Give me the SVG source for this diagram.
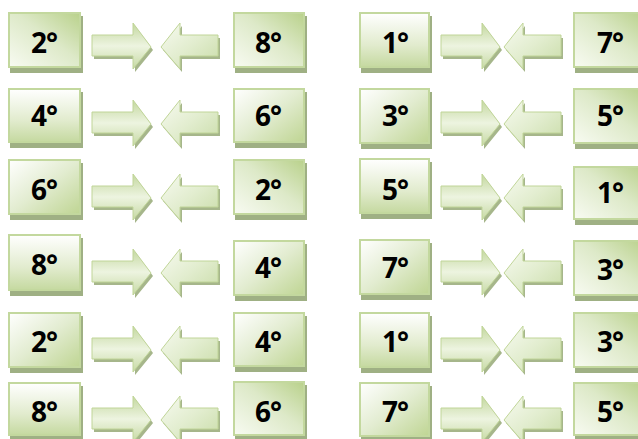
<svg xmlns="http://www.w3.org/2000/svg" width="638" height="439" viewBox="0 0 638 439">
<defs>
<linearGradient id="gA" x1="0" y1="0" x2="1" y2="1">
<stop offset="0" stop-color="#ffffff"/>
<stop offset="0.5" stop-color="#e2ecd0"/>
<stop offset="1" stop-color="#bfd593"/>
</linearGradient>
<linearGradient id="gB" x1="0" y1="1" x2="1" y2="0">
<stop offset="0" stop-color="#f8fbf2"/>
<stop offset="0.55" stop-color="#dde9c8"/>
<stop offset="1" stop-color="#b9d18b"/>
</linearGradient>
<linearGradient id="gC" x1="0" y1="0" x2="0" y2="1">
<stop offset="0" stop-color="#ffffff"/>
<stop offset="0.6" stop-color="#e1ebcd"/>
<stop offset="1" stop-color="#c5d9a0"/>
</linearGradient>
<linearGradient id="aR" x1="0" y1="0" x2="0" y2="1">
<stop offset="0" stop-color="#c3d79e"/>
<stop offset="0.5" stop-color="#edf4e0"/>
<stop offset="1" stop-color="#c6d9a3"/>
</linearGradient>
<linearGradient id="aL" x1="0" y1="0" x2="1" y2="1">
<stop offset="0" stop-color="#f7faf0"/>
<stop offset="0.5" stop-color="#e2edcf"/>
<stop offset="1" stop-color="#c9dca8"/>
</linearGradient>
<path id="ra" d="M0,-12 H41 V-24 L59,0 L41,22 V9 H0 Z"/>
<path id="la" d="M0,0 L19,-24 V-12 H57 V9 H19 V22 Z"/>
</defs>
<style>
.sh{fill:#9fb084}
.bx{stroke:#c3d89e;stroke-width:2}
.t{font-family:"Open Sans","Liberation Sans",sans-serif;font-weight:bold;font-size:28px;letter-spacing:-1px;fill:#000;text-anchor:middle}
.arr{stroke:#c0d598;stroke-width:1}
.ash{fill:#a6b68b}
</style>
<g id="connectors">
<g transform="translate(92,47)"><use href="#ra" class="ash" x="2" y="3"/><use href="#ra" class="arr" fill="url(#aR)"/></g>
<g transform="translate(161,47)"><use href="#la" class="ash" x="2" y="3"/><use href="#la" class="arr" fill="url(#aL)"/></g>
<g transform="translate(441,47)"><use href="#ra" class="ash" x="2" y="3"/><use href="#ra" class="arr" fill="url(#aR)"/></g>
<g transform="translate(504,47)"><use href="#la" class="ash" x="2" y="3"/><use href="#la" class="arr" fill="url(#aL)"/></g>
<g transform="translate(92,124)"><use href="#ra" class="ash" x="2" y="3"/><use href="#ra" class="arr" fill="url(#aR)"/></g>
<g transform="translate(161,124)"><use href="#la" class="ash" x="2" y="3"/><use href="#la" class="arr" fill="url(#aL)"/></g>
<g transform="translate(441,124)"><use href="#ra" class="ash" x="2" y="3"/><use href="#ra" class="arr" fill="url(#aR)"/></g>
<g transform="translate(504,124)"><use href="#la" class="ash" x="2" y="3"/><use href="#la" class="arr" fill="url(#aL)"/></g>
<g transform="translate(92,198)"><use href="#ra" class="ash" x="2" y="3"/><use href="#ra" class="arr" fill="url(#aR)"/></g>
<g transform="translate(161,198)"><use href="#la" class="ash" x="2" y="3"/><use href="#la" class="arr" fill="url(#aL)"/></g>
<g transform="translate(441,198)"><use href="#ra" class="ash" x="2" y="3"/><use href="#ra" class="arr" fill="url(#aR)"/></g>
<g transform="translate(504,198)"><use href="#la" class="ash" x="2" y="3"/><use href="#la" class="arr" fill="url(#aL)"/></g>
<g transform="translate(92,273)"><use href="#ra" class="ash" x="2" y="3"/><use href="#ra" class="arr" fill="url(#aR)"/></g>
<g transform="translate(161,273)"><use href="#la" class="ash" x="2" y="3"/><use href="#la" class="arr" fill="url(#aL)"/></g>
<g transform="translate(441,273)"><use href="#ra" class="ash" x="2" y="3"/><use href="#ra" class="arr" fill="url(#aR)"/></g>
<g transform="translate(504,273)"><use href="#la" class="ash" x="2" y="3"/><use href="#la" class="arr" fill="url(#aL)"/></g>
<g transform="translate(92,350)"><use href="#ra" class="ash" x="2" y="3"/><use href="#ra" class="arr" fill="url(#aR)"/></g>
<g transform="translate(161,350)"><use href="#la" class="ash" x="2" y="3"/><use href="#la" class="arr" fill="url(#aL)"/></g>
<g transform="translate(441,350)"><use href="#ra" class="ash" x="2" y="3"/><use href="#ra" class="arr" fill="url(#aR)"/></g>
<g transform="translate(504,350)"><use href="#la" class="ash" x="2" y="3"/><use href="#la" class="arr" fill="url(#aL)"/></g>
<g transform="translate(92,420)"><use href="#ra" class="ash" x="2" y="3"/><use href="#ra" class="arr" fill="url(#aR)"/></g>
<g transform="translate(161,420)"><use href="#la" class="ash" x="2" y="3"/><use href="#la" class="arr" fill="url(#aL)"/></g>
<g transform="translate(441,420)"><use href="#ra" class="ash" x="2" y="3"/><use href="#ra" class="arr" fill="url(#aR)"/></g>
<g transform="translate(504,420)"><use href="#la" class="ash" x="2" y="3"/><use href="#la" class="arr" fill="url(#aL)"/></g>
</g>
<!-- column 1 -->
<g id="n1"><rect class="sh" x="10" y="16" width="73" height="57"/><rect class="bx" x="9" y="13" width="71" height="54" fill="url(#gB)"/><text class="t" x="44" y="53">2°</text></g>
<g id="n2"><rect class="sh" x="10" y="92" width="73" height="56"/><rect class="bx" x="9" y="89" width="71" height="53" fill="url(#gC)"/><text class="t" x="44" y="126">4°</text></g>
<g id="n3"><rect class="sh" x="10" y="163" width="73" height="57"/><rect class="bx" x="9" y="160" width="71" height="54" fill="url(#gA)"/><text class="t" x="44" y="200">6°</text></g>
<g id="n4"><rect class="sh" x="10" y="238" width="73" height="58"/><rect class="bx" x="9" y="235" width="71" height="55" fill="url(#gC)"/><text class="t" x="44" y="275">8°</text></g>
<g id="n5"><rect class="sh" x="10" y="316" width="73" height="57"/><rect class="bx" x="9" y="313" width="71" height="54" fill="url(#gA)"/><text class="t" x="44" y="352">2°</text></g>
<g id="n6"><rect class="sh" x="10" y="386" width="73" height="53"/><rect class="bx" x="9" y="383" width="71" height="52" fill="url(#gC)"/><text class="t" x="44" y="422">8°</text></g>
<!-- column 2 -->
<g id="n7"><rect class="sh" x="235" y="16" width="72" height="57"/><rect class="bx" x="234" y="13" width="70" height="54" fill="url(#gB)"/><text class="t" x="268" y="53">8°</text></g>
<g id="n8"><rect class="sh" x="235" y="92" width="72" height="56"/><rect class="bx" x="234" y="89" width="70" height="53" fill="url(#gA)"/><text class="t" x="268" y="126">6°</text></g>
<g id="n9"><rect class="sh" x="235" y="163" width="72" height="57"/><rect class="bx" x="234" y="160" width="70" height="54" fill="url(#gB)"/><text class="t" x="268" y="200">2°</text></g>
<g id="n10"><rect class="sh" x="235" y="244" width="72" height="57"/><rect class="bx" x="234" y="241" width="70" height="54" fill="url(#gA)"/><text class="t" x="268" y="278">4°</text></g>
<g id="n11"><rect class="sh" x="235" y="316" width="72" height="56"/><rect class="bx" x="234" y="313" width="70" height="53" fill="url(#gA)"/><text class="t" x="268" y="352">4°</text></g>
<g id="n12"><rect class="sh" x="235" y="385" width="72" height="54"/><rect class="bx" x="234" y="382" width="70" height="53" fill="url(#gB)"/><text class="t" x="268" y="422">6°</text></g>
<!-- column 3 -->
<g id="n13"><rect class="sh" x="361" y="16" width="71" height="57"/><rect class="bx" x="360" y="13" width="69" height="54" fill="url(#gC)"/><text class="t" x="395" y="53">1°</text></g>
<g id="n14"><rect class="sh" x="361" y="92" width="71" height="57"/><rect class="bx" x="360" y="89" width="69" height="54" fill="url(#gA)"/><text class="t" x="395" y="126">3°</text></g>
<g id="n15"><rect class="sh" x="361" y="162" width="71" height="57"/><rect class="bx" x="360" y="159" width="69" height="54" fill="url(#gC)"/><text class="t" x="395" y="200">5°</text></g>
<g id="n16"><rect class="sh" x="361" y="243" width="71" height="57"/><rect class="bx" x="360" y="240" width="69" height="54" fill="url(#gA)"/><text class="t" x="395" y="278">7°</text></g>
<g id="n17"><rect class="sh" x="361" y="316" width="71" height="57"/><rect class="bx" x="360" y="313" width="69" height="54" fill="url(#gC)"/><text class="t" x="395" y="352">1°</text></g>
<g id="n18"><rect class="sh" x="361" y="386" width="71" height="53"/><rect class="bx" x="360" y="383" width="69" height="53" fill="url(#gA)"/><text class="t" x="395" y="422">7°</text></g>
<!-- column 4 -->
<g id="n19"><rect class="sh" x="575" y="16" width="73" height="57"/><rect class="bx" x="574" y="13" width="71" height="54" fill="url(#gB)"/><text class="t" x="610" y="53">7°</text></g>
<g id="n20"><rect class="sh" x="575" y="92" width="73" height="57"/><rect class="bx" x="574" y="89" width="71" height="54" fill="url(#gB)"/><text class="t" x="610" y="126">5°</text></g>
<g id="n21"><rect class="sh" x="575" y="170" width="73" height="55"/><rect class="bx" x="574" y="167" width="71" height="52" fill="url(#gB)"/><text class="t" x="610" y="203">1°</text></g>
<g id="n22"><rect class="sh" x="575" y="244" width="73" height="57"/><rect class="bx" x="574" y="241" width="71" height="54" fill="url(#gB)"/><text class="t" x="610" y="280">3°</text></g>
<g id="n23"><rect class="sh" x="575" y="316" width="73" height="57"/><rect class="bx" x="574" y="313" width="71" height="54" fill="url(#gB)"/><text class="t" x="610" y="352">3°</text></g>
<g id="n24"><rect class="sh" x="575" y="386" width="73" height="53"/><rect class="bx" x="574" y="383" width="71" height="52" fill="url(#gB)"/><text class="t" x="610" y="422">5°</text></g>
</svg>
